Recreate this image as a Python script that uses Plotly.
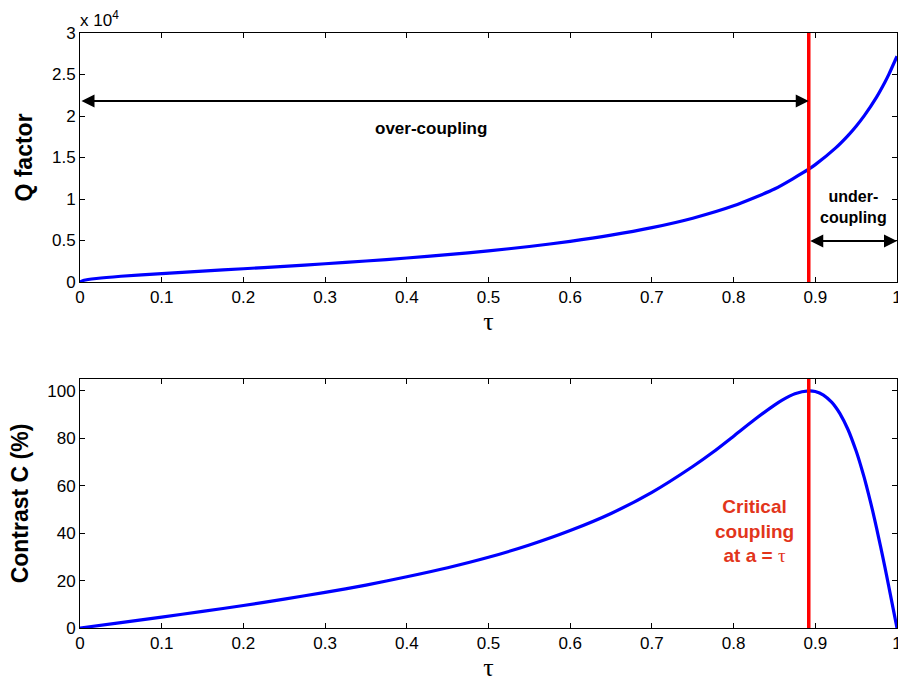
import plotly.graph_objects as go
from plotly.subplots import make_subplots

# Q factor vs tau
tau_q = [0.0, 0.005, 0.02, 0.05, 0.1, 0.15, 0.2, 0.25, 0.3, 0.35, 0.4, 0.45, 0.5,
         0.55, 0.6, 0.65, 0.7, 0.75, 0.8, 0.85, 0.892, 0.9, 0.925, 0.94, 0.95, 0.96, 0.975, 0.985, 0.99, 1.0]
q_factor = [0, 210, 420, 690, 1020, 1310, 1600, 1890, 2200, 2530, 2890, 3290, 3750,
            4280, 4900, 5640, 6550, 7690, 9180, 11200, 13590, 14140, 16160, 17640, 18770, 20040, 22270, 24030, 25010, 27200]

# Contrast vs tau
tau_c = [0.0, 0.05, 0.1, 0.15, 0.2, 0.25, 0.3, 0.35, 0.4, 0.45, 0.5, 0.55, 0.6, 0.65,
         0.7, 0.75, 0.775, 0.8, 0.825, 0.85, 0.86, 0.875, 0.892, 0.9, 0.91, 0.92, 0.925, 0.93, 0.94,
         0.95, 0.955, 0.96, 0.965, 0.97, 0.975, 0.98, 0.985, 0.99, 0.993, 0.997, 1.0]
contrast = [0, 2.3, 4.6, 7.0, 9.5, 12.2, 15.0, 18.1, 21.6, 25.4, 29.8, 35.0, 41.1, 48.3,
            57.2, 68.1, 74.2, 80.9, 87.7, 94.0, 96.2, 98.8, 100, 99.7, 98.2, 95.2, 93.1, 90.5, 83.7,
            74.6, 69.2, 63.3, 56.7, 49.7, 42.1, 34.2, 26.0, 17.4, 12.2, 5.2, 0]

critical_tau = 0.892

x_ticks = [0, 0.1, 0.2, 0.3, 0.4, 0.5, 0.6, 0.7, 0.8, 0.9, 1]
x_ticktext = ["0", "0.1", "0.2", "0.3", "0.4", "0.5", "0.6", "0.7", "0.8", "0.9", "1"]
q_ticks = [0, 5000, 10000, 15000, 20000, 25000, 30000]
q_ticktext = ["0", "0.5", "1", "1.5", "2", "2.5", "3"]
c_ticks = [0, 20, 40, 60, 80, 100]

FONT = "Liberation Sans, Arial, sans-serif"
SERIF = "Liberation Serif, Times New Roman, serif"

fig = make_subplots(rows=2, cols=1, vertical_spacing=0.163)

fig.add_trace(go.Scatter(x=tau_q, y=q_factor, mode="lines",
                         line=dict(color="#0000ff", width=3.2, shape="spline", smoothing=0.6),
                         showlegend=False), row=1, col=1)
fig.add_trace(go.Scatter(x=tau_c, y=contrast, mode="lines",
                         line=dict(color="#0000ff", width=3.2, shape="spline", smoothing=0.6),
                         showlegend=False), row=2, col=1)

axis_common = dict(showline=True, linecolor="black", linewidth=1, mirror="ticks", ticks="inside",
                   ticklen=5, tickcolor="black", showgrid=False, zeroline=False,
                   ticklabeloverflow="allow",
                   tickfont=dict(family=FONT, size=17, color="black"))

fig.update_xaxes(range=[0, 1], tickvals=x_ticks, ticktext=x_ticktext, automargin=False, **axis_common)
fig.update_xaxes(title=dict(text="τ", font=dict(family=SERIF, size=26, color="black"), standoff=0), row=1, col=1)
fig.update_xaxes(title=dict(text="τ", font=dict(family=SERIF, size=26, color="black"), standoff=0), row=2, col=1)
fig.update_yaxes(range=[0, 30000], tickvals=q_ticks, ticktext=q_ticktext,
                 title=dict(text="<b>Q factor</b>", font=dict(family=FONT, size=23, color="black"), standoff=12),
                 row=1, col=1, **axis_common)
fig.update_yaxes(range=[0, 105], tickvals=c_ticks,
                 title=dict(text="<b>Contrast C (%)</b>", font=dict(family=FONT, size=23, color="black"), standoff=12),
                 row=2, col=1, **axis_common)

# Red critical lines
for xr, yref in [("x", "y domain"), ("x2", "y2 domain")]:
    fig.add_shape(type="line", x0=critical_tau, x1=critical_tau, y0=0, y1=1, xref=xr, yref=yref,
                  line=dict(color="#ff0000", width=3.5))

# Arrows
fig.add_annotation(x=critical_tau, y=21800, ax=0, ay=21800, xref="x", yref="y", axref="x", ayref="y",
                   text="", showarrow=True, arrowhead=2, arrowside="end+start", arrowsize=1.3,
                   arrowwidth=2, arrowcolor="black", startarrowhead=2, startarrowsize=1.3)
fig.add_annotation(x=1.0, y=4950, ax=critical_tau, ay=4950, xref="x", yref="y", axref="x", ayref="y",
                   text="", showarrow=True, arrowhead=2, arrowside="end+start", arrowsize=1.3,
                   arrowwidth=2, arrowcolor="black", startarrowhead=2, startarrowsize=1.3)

fig.add_annotation(x=0.43, y=18550, xref="x", yref="y", text="<b>over-coupling</b>", showarrow=False,
                   font=dict(family=FONT, size=17, color="black"))
fig.add_annotation(x=0.947, y=9000, xref="x", yref="y", text="<b>under-<br>coupling</b>", showarrow=False,
                   font=dict(family=FONT, size=16, color="black"))
fig.add_annotation(x=0.826, y=41, xref="x2", yref="y2",
                   text="<b>Critical<br>coupling<br>at a = </b><span style=\"font-family:'Liberation Serif'\">τ</span>",
                   showarrow=False, font=dict(family=FONT, size=19, color="#e2351b"))

fig.add_annotation(x=0, y=1, xref="x domain", yref="y domain", xanchor="left", yanchor="bottom",
                   text="x 10<sup>4</sup>", showarrow=False, yshift=1, xshift=-2,
                   font=dict(family=FONT, size=17, color="black"))

fig.update_layout(width=898, height=682, margin=dict(l=80, r=1, t=33, b=54),
                  paper_bgcolor="white", plot_bgcolor="white",
                  font=dict(family=FONT, color="black"))

fig.write_html("out.html", config={"displayModeBar": False},
               post_script="document.body.style.margin='0';document.body.style.overflow='hidden';")
